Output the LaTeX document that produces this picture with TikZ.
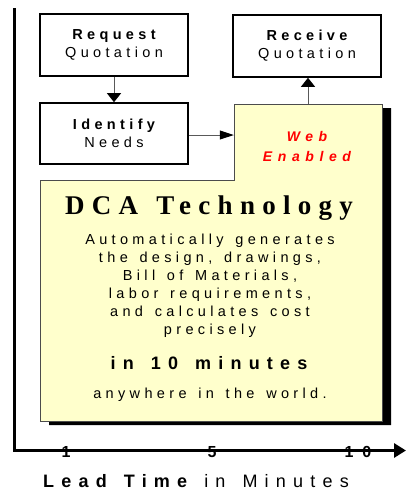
\documentclass[tikz,border=0pt]{standalone}
\usepackage{fontspec}
\setmainfont{Liberation Sans}[LetterSpace=30,WordSpace=1.4]
\newfontfamily\wideSans{Liberation Sans}[LetterSpace=40,WordSpace=1.4]
\newfontfamily\tickSans{Liberation Sans}[LetterSpace=55]
\newfontfamily\titleSerif{Liberation Serif}[LetterSpace=27,WordSpace=1.3]
\usetikzlibrary{arrows.meta}
\definecolor{yellowbg}{HTML}{FFFFCC}
\begin{document}
\begin{tikzpicture}[x=1pt,y=-1pt,
  box/.style={draw=black, line width=1.6pt, minimum width=148pt, minimum height=62pt,
    inner sep=0pt, align=center, font=\fontsize{14.5}{18}\selectfont},
  vconn/.style={line width=1pt, draw=black!65, -{Triangle[length=9pt,width=14pt,fill=black,color=black]}},
  hconn/.style={line width=1pt, draw=black!65, -{Triangle[length=14pt,width=9pt,fill=black,color=black]}},
  txt/.style={anchor=base, inner sep=0pt},
  body/.style={txt, font=\fontsize{14.5}{18}\selectfont}]
\useasboundingbox (0,0) rectangle (406,491);
% axes
\coordinate (ytop) at (14,8);
\coordinate (orig) at (14,450.5);
\coordinate (xend) at (406,450.5);
\draw[line width=3pt, line join=miter, -{Triangle[length=12pt,width=14pt]}] (ytop) -- (orig) -- (xend);
% boxes
\node[box] (req) at (114,45) {{\bfseries Request}\\Quotation};
\node[box] (rcv) at (307,46) {{\bfseries Receive}\\Quotation};
\node[box, minimum height=61pt] (idn) at (114,133.5) {{\bfseries Identify}\\Needs};
% shadow and yellow panel
\fill[black] (243,108) -- (391,108) -- (391,425) -- (49,425) -- (49,184) -- (243,184) -- cycle;
\filldraw[fill=yellowbg, draw=black!70, line width=1pt]
  (234,104) -- (382,104) -- (382,421) -- (40,421) -- (40,180) -- (234,180) -- cycle;
\node[minimum width=148pt, minimum height=76pt, inner sep=0pt] (web) at (308,142) {};
% connectors
\draw[vconn] (req) -- (idn);
\draw[hconn] (idn.east |- 0,135) -- (web.west |- 0,135);
\draw[vconn] (web.north) -- (rcv.south -| web.north);
% web enabled
\node[txt, text=red, font=\fontsize{14}{18}\selectfont\wideSans\bfseries\itshape] (w1) at (307,141) {Web};
\node[txt, text=red, font=\fontsize{14}{18}\selectfont\wideSans\bfseries\itshape] (w2) at (307,161) {Enabled};
% main text
\node[txt, font=\fontsize{27}{30}\selectfont\titleSerif\bfseries] (title) at (209,214) {DCA Technology};
\node[body] (l1) at (210,244) {Automatically generates};
\node[body] (l2) at (210,262) {the design, drawings,};
\node[body] (l3) at (210,280) {Bill of Materials,};
\node[body] (l4) at (210,298) {labor requirements,};
\node[body] (l5) at (210,316) {and calculates cost};
\node[body] (l6) at (210,334) {precisely};
\node[txt, font=\fontsize{18}{22}\selectfont\wideSans\bfseries] (l7) at (209,369) {in 10 minutes};
\node[body] (l8) at (210,398) {anywhere in the world.};
% ticks
\node[txt, font=\fontsize{16}{18}\selectfont\tickSans\bfseries] (t1) at (66,457) {1};
\node[txt, font=\fontsize{16}{18}\selectfont\tickSans\bfseries] (t5) at (212,457) {5};
\node[txt, font=\fontsize{16}{18}\selectfont\tickSans\bfseries] (t10) at (358,457) {10};
% axis label
\node[txt, font=\fontsize{18}{20}\selectfont\wideSans] (lab) at (196,487) {{\bfseries Lead Time} in Minutes};
\end{tikzpicture}
\end{document}
